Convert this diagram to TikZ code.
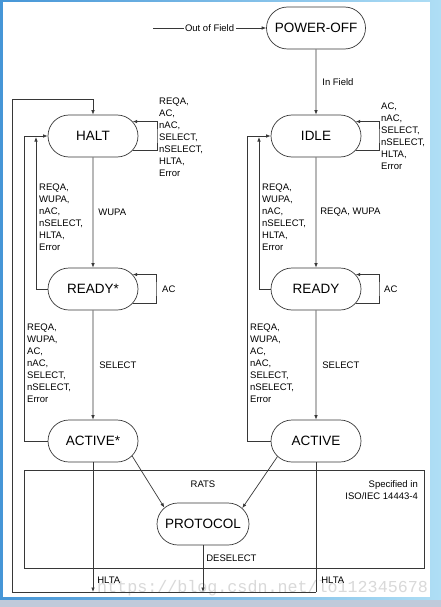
\documentclass[tikz,border=0pt]{standalone}
\usepackage{fontspec}
\setmainfont{Liberation Sans}
\newfontfamily\markfont{Liberation Mono}
\usetikzlibrary{shapes.misc,arrows.meta}

\definecolor{frameL}{RGB}{70,150,215}
\definecolor{frameR}{RGB}{175,222,245}
\definecolor{frameB}{RGB}{192,202,218}
\definecolor{wire}{RGB}{55,55,55}

\begin{document}
\begin{tikzpicture}[x=1pt,y=-1pt,
  statebox/.style={rounded rectangle,draw=wire,line width=0.7pt,minimum width=90pt,
                   minimum height=42pt,inner sep=0pt,font=\fontsize{13.5}{16}\selectfont},
  lbl/.style={font=\fontsize{9.5}{12}\selectfont,align=left,inner sep=0pt},
  wireline/.style={draw=wire,line width=0.7pt},
  arr/.style={wireline,-{Latex[length=4.5pt,width=3.5pt]}},
]

% Frame
\useasboundingbox (0,0) rectangle (441,607);
\shade[left color=frameL,right color=frameR] (0,0) rectangle (441,607);
\fill[frameB] (0,600) rectangle (441,607);
\fill[white] (3,2) rectangle (430,597);
\node[font=\markfont\fontsize{16.7}{18}\selectfont,text=gray!30,anchor=base west,inner sep=0pt]
  (watermark) at (97,592) {https://blog.csdn.net/lo112345678};

% ISO/IEC 14443-4 region
\node[draw=wire,line width=0.7pt,minimum width=400pt,minimum height=98pt,inner sep=0pt]
  (isobox) at (224,519) {};
\node[lbl] (rats) at (203,484) {RATS};
\node[lbl,align=right,anchor=east] (isonote) at (418,490) {Specified in\\ISO/IEC 14443-4};

% States
\node[statebox,minimum width=99pt] (poweroff) at (316,28) {POWER-OFF};
\node[statebox] (halt) at (93,136) {HALT};
\node[statebox] (idle) at (316,136) {IDLE};
\node[statebox] (readys) at (93,289) {READY*};
\node[statebox] (ready) at (316,289) {READY};
\node[statebox] (actives) at (93,441) {ACTIVE*};
\node[statebox] (active) at (316,441) {ACTIVE};
\node[statebox,minimum width=92pt] (protocol) at (203,524) {PROTOCOL};

% Helper points
\coordinate (fieldin) at (153,28);
\coordinate (haltloop) at (157,136);
\coordinate (idleloop) at (379,136);
\coordinate (rsloop) at (156,289);
\coordinate (rloop) at (379,289);
\coordinate (rsup) at (36,137);
\coordinate (asup) at (24,136);
\coordinate (rup) at (259,137);
\coordinate (aup) at (247,136);
\coordinate (busA) at (93,592);
\coordinate (busP) at (203,592);
\coordinate (busR) at (316,592);
\coordinate (busL) at (12,592);
\coordinate (busTop) at (12,99);

% Field
\draw[arr] (fieldin) -- node[lbl,fill=white,inner sep=1.5pt] {Out of Field} (poweroff);
\draw[arr] (poweroff) -- node[lbl,right=6pt] {In Field} (idle);

% Self loops
\draw[arr] (halt.-20) -| (haltloop) |- (halt.20);
\node[lbl,anchor=west] (haltlooplbl) at (159,137)
  {REQA,\\AC,\\nAC,\\SELECT,\\nSELECT,\\HLTA,\\Error};
\draw[arr] (idle.-20) -| (idleloop) |- (idle.20);
\node[lbl,anchor=west] (idlelooplbl) at (381,136)
  {AC,\\nAC,\\SELECT,\\nSELECT,\\HLTA,\\Error};
\draw[arr] (readys.-20) -| (rsloop) |- (readys.20);
\node[lbl,anchor=west] (rslooplbl) at (162,289) {AC};
\draw[arr] (ready.-20) -| (rloop) |- (ready.20);
\node[lbl,anchor=west] (rlooplbl) at (384,289) {AC};

% Forward transitions
\draw[arr] (halt) -- node[lbl,right=5pt] {WUPA} (readys);
\draw[arr] (readys) -- node[lbl,right=6pt] {SELECT} (actives);
\draw[arr] (idle) -- node[lbl,right=4pt] {REQA, WUPA} (ready);
\draw[arr] (ready) -- node[lbl,right=6pt] {SELECT} (active);
\draw[arr] (actives.-21) -- (protocol.157);
\draw[arr] (active.-158) -- (protocol.22);

% Fall back to HALT / IDLE
\draw[arr] (readys.west) -| (rsup);
\draw[arr] (actives.west) -| (asup) -- (halt.west);
\node[lbl,anchor=west] (rsbacklbl) at (39,217)
  {REQA,\\WUPA,\\nAC,\\nSELECT,\\HLTA,\\Error};
\node[lbl,anchor=west] (asbacklbl) at (27,363)
  {REQA,\\WUPA,\\AC,\\nAC,\\SELECT,\\nSELECT,\\Error};
\draw[arr] (ready.west) -| (rup);
\draw[arr] (active.west) -| (aup) -- (idle.west);
\node[lbl,anchor=west] (rbacklbl) at (262,217)
  {REQA,\\WUPA,\\nAC,\\nSELECT,\\HLTA,\\Error};
\node[lbl,anchor=west] (abacklbl) at (250,363)
  {REQA,\\WUPA,\\AC,\\nAC,\\SELECT,\\nSELECT,\\Error};

% HLTA / DESELECT bus back to HALT
\draw[arr] (actives) -- node[lbl,right=4pt,pos=0.907] {HLTA} (busA);
\draw[arr] (protocol) -- node[lbl,right=3pt,pos=0.27] {DESELECT} (busP);
\draw[wireline] (active) -- node[lbl,right=5pt,pos=0.908] {HLTA} (busR);
\draw[arr] (busR) -- (busL) -- (busTop) -| (halt.north);

\end{tikzpicture}
\end{document}
